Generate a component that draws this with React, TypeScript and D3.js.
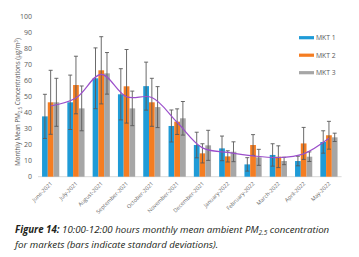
import React from "react";
import * as d3 from "d3";

const months = ["June-2021", "July-2021", "August-2021", "September-2021", "October-2021", "November-2021", "December-2021", "January-2022", "February-2022", "March-2022", "April-2022", "May-2022"];
const seriesNames = ["MKT 1", "MKT 2", "MKT 3"];
const seriesColors = ["#1f9bd7", "#f57d22", "#a6a6a6"];

const mkt1 = [37.7, 46.5, 61.5, 51.5, 56.6, 31.7, 19.8, 17.7, 7.7, 13.6, 9.8, 21.7];
const mkt2 = [46.5, 57.3, 66.5, 56.5, 46.5, 34.4, 14.6, 12.7, 19.8, 12.5, 20.8, 25.9];
const mkt3 = [46.5, 42.7, 64.6, 42.7, 43.5, 36.5, 19.6, 15.6, 12.1, 9.8, 12.5, 24.6];

const sd1 = [13.8, 17, 19, 16, 15, 10, 8, 7.7, 4.2, 7, 3, 7];
const sd2 = [20, 18, 21, 23, 15, 8, 6, 3.5, 6.5, 6.8, 10, 8.7];
const sd3 = [15, 14, 13, 10.8, 12.8, 10.5, 9.4, 6.2, 5, 2.3, 3, 2.6];

const trend = [44.2, 49.2, 64, 50, 49.5, 34, 18, 15.2, 13, 12, 14.3, 24];

const yTicks = [0, 10, 20, 30, 40, 50, 60, 70, 80, 90, 100];

const W = 359;
const H = 257;

export default function App() {
  const values = [mkt1, mkt2, mkt3];
  const sds = [sd1, sd2, sd3];

  const x0 = d3.scaleBand<string>().domain(months).range([38, 341.6]).paddingInner(0.32).paddingOuter(0.16);
  const x1 = d3.scaleBand<number>().domain([0, 1, 2]).range([0, x0.bandwidth()]).padding(0);
  const y = d3.scaleLinear().domain([0, 100]).range([176.7, 16.7]);

  const line = d3
    .line<number>()
    .x((_, i) => (x0(months[i]) as number) + x0.bandwidth() / 2)
    .y((d) => y(d))
    .curve(d3.curveCatmullRom.alpha(0.5));

  const axisColor = "#595959";
  const font = "'Open Sans', 'Noto Sans', sans-serif";

  return (
    <svg width={W} height={H} style={{ position: "absolute", left: 0, top: 0, background: "#fff" }} fontFamily={font}>
      <rect x={0} y={0} width={W} height={H} fill="#fff" />
      {yTicks.map((t) => (
        <text key={t} x={32} y={y(t)} dy="0.35em" textAnchor="end" fontSize={7} fill={axisColor}>
          {t}
        </text>
      ))}
      <text transform={`translate(20,${102}) rotate(-90)`} textAnchor="middle" fontSize={6.2} fill={axisColor}>
        Monthly Mean PM
        <tspan fontSize={4.5} dy={1.5}>2.5</tspan>
        <tspan dy={-1.5}> Concentrations (µg/m</tspan>
        <tspan fontSize={4.5} dy={-2.5}>3</tspan>
        <tspan dy={2.5}>)</tspan>
      </text>
      <line x1={38} x2={341.6} y1={y(0)} y2={y(0)} stroke="#d9d9d9" strokeWidth={1} />
      {months.map((m, i) => (
        <g key={m} transform={`translate(${x0(m)},0)`}>
          {values.map((vals, s) => (
            <rect
              key={s}
              x={x1(s)}
              y={y(vals[i])}
              width={x1.bandwidth()}
              height={y(0) - y(vals[i])}
              fill={seriesColors[s]}
            />
          ))}
        </g>
      ))}
      {months.map((m, i) => (
        <g key={m + "e"} transform={`translate(${x0(m)},0)`}>
          {values.map((vals, s) => {
            const cx = (x1(s) as number) + x1.bandwidth() / 2;
            const top = y(vals[i] + sds[s][i]);
            const bot = y(vals[i] - sds[s][i]);
            return (
              <g key={s} stroke="#5a5a5a" strokeWidth={0.9}>
                <line x1={cx} x2={cx} y1={top} y2={bot} />
                <line x1={cx - 2} x2={cx + 2} y1={top} y2={top} />
                <line x1={cx - 2} x2={cx + 2} y1={bot} y2={bot} />
              </g>
            );
          })}
        </g>
      ))}
      <path d={line(trend) || ""} fill="none" stroke="#9b4fcb" strokeWidth={1.2} />
      {months.map((m) => {
        const cx = (x0(m) as number) + x0.bandwidth() / 2 + 2;
        return (
          <text
            key={m + "l"}
            transform={`translate(${cx},${184}) rotate(-45)`}
            textAnchor="end"
            fontSize={5.5}
            fill="#6a6a6a"
          >
            {m}
          </text>
        );
      })}
      {seriesNames.map((n, s) => {
        const ly = 37.7 + s * 17.5;
        return (
          <g key={n}>
            <rect x={299} y={ly - 1.6} width={15} height={3.2} fill={seriesColors[s]} />
            <text x={316} y={ly} dy="0.35em" fontSize={6.8} fill={axisColor}>
              {n}
            </text>
          </g>
        );
      })}
      <text x={15} y={232.5} fontSize={9.7} fill="#231f20" fontStyle="italic">
        <tspan fontWeight="bold">Figure 14:</tspan>
        <tspan> 10:00-12:00 hours monthly mean ambient PM</tspan>
        <tspan fontSize={6.5} dy={2}>2.5</tspan>
        <tspan dy={-2}> concentration</tspan>
      </text>
      <text x={15} y={248} fontSize={9.7} fill="#231f20" fontStyle="italic">
        for markets (bars indicate standard deviations).
      </text>
    </svg>
  );
}
